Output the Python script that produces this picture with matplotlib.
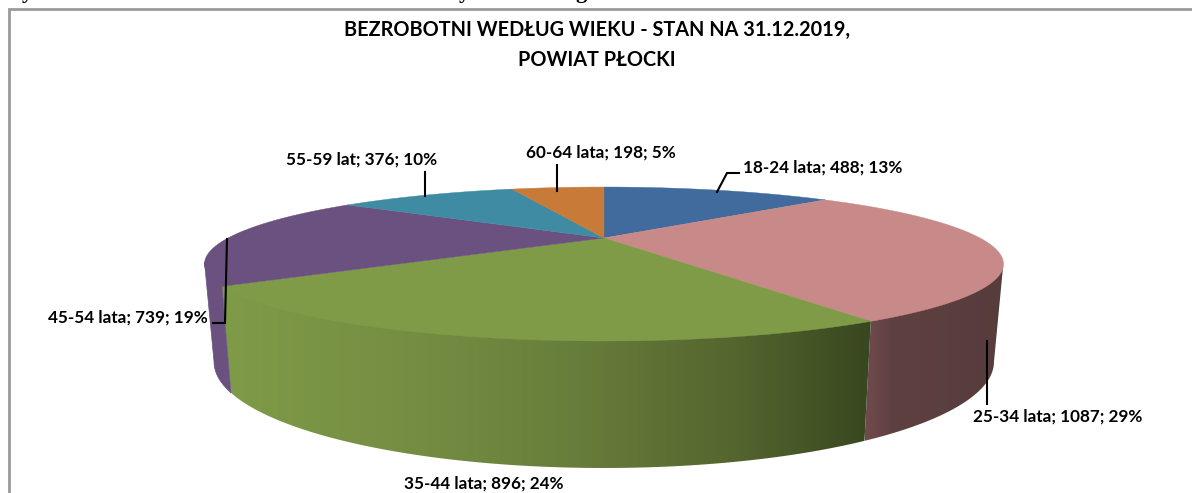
import numpy as np
import matplotlib
matplotlib.use('Agg')
import matplotlib.pyplot as plt
from matplotlib.colors import LinearSegmentedColormap
from matplotlib.patches import Polygon

title = 'BEZROBOTNI WEDŁUG WIEKU - STAN NA 31.12.2019,\nPOWIAT PŁOCKI'
categories = ['18-24 lata', '25-34 lata', '35-44 lata', '45-54 lata', '55-59 lat', '60-64 lata']
values = [488, 1087, 896, 739, 376, 198]
percents = [13, 29, 24, 19, 10, 5]
colors = ['#406b9c', '#c88a88', '#7f9b48', '#6a5180', '#3f8ba3', '#c87a38']
wall_colors = ['#406b9c', '#5a3d3d', '#7f9b48', '#6a5180', '#3f8ba3', '#c87a38']

# label left edge / baseline centre, in pixels of the picture
label_pos = [(743, 168), (973, 417), (404, 484), (48, 318), (286, 160), (526, 153)]
leaders = [
    [(717, 192), (727, 173), (739, 173)],
    [(987, 341), (987, 404)],
    [],
    [(227, 239), (225, 323), (213, 323)],
    [(425, 196), (425, 172)],
    [(557, 191), (557, 165)],
]

# perspective of the 3d pie
CX, CY = 604, 238
K = 0.338
TOP_SX, TOP_SY = 376, 68.2
BOT_CY, BOT_SX, BOT_SY = 326, 367, 94


def top_pts(t):
    x, y = np.sin(t), np.cos(t)
    w = 1 + K * y
    return np.c_[CX + TOP_SX * x / w, CY - TOP_SY * y / w]


def bot_pts(t):
    x, y = np.sin(t), np.cos(t)
    w = 1 + K * y
    return np.c_[CX + BOT_SX * x / w, BOT_CY - BOT_SY * y / w]


fig = plt.figure(figsize=(11.92, 4.93), dpi=100)
ax = fig.add_axes([0, 0, 1, 1])

cum = np.cumsum([0] + values) / sum(values) * 2 * np.pi
edge_l = np.arccos(-K)
edge_r = 2 * np.pi - edge_l

# side walls, only the front part shows
for i in range(len(values)):
    a = max(cum[i], edge_l)
    b = min(cum[i + 1], edge_r)
    if b <= a:
        continue
    t = np.linspace(a, b, 120)
    # rim goes a bit under the top face so no white seam shows
    wall = np.vstack([top_pts(t) - [0, 2], bot_pts(t)[::-1]])
    if i == 1:
        stops = [(0, '#704b4e'), (0.2, '#5f4041'), (1, '#573c3c')]
    elif i == 2:
        stops = [(0, '#7f9b48'), (0.3, '#758d42'), (0.55, '#677d3b'), (0.8, '#54642e'), (1, '#38471f')]
    else:
        ax.add_patch(Polygon(wall, closed=True, fc=wall_colors[i], ec=wall_colors[i], lw=0.5, zorder=2))
        continue
    cmap = LinearSegmentedColormap.from_list('wall%d' % i, stops)
    im = ax.imshow(np.linspace(0, 1, 256)[None, :], cmap=cmap, aspect='auto', zorder=2,
                   extent=[wall[:, 0].min(), wall[:, 0].max(), wall[:, 1].max(), wall[:, 1].min()])
    clip = Polygon(wall, closed=True, transform=ax.transData)
    im.set_clip_path(clip)

# top face
for i in range(len(values)):
    t = np.linspace(cum[i], cum[i + 1], 200)
    pts = np.vstack([[CX, CY], top_pts(t)])
    ax.add_patch(Polygon(pts, closed=True, fc=colors[i], ec=colors[i], lw=0.3, zorder=3))

for line in leaders:
    if line:
        xs, ys = zip(*line)
        ax.plot(xs, ys, color='black', lw=1.5, zorder=4, solid_joinstyle='miter')

for cat, val, pct, (x, y) in zip(categories, values, percents, label_pos):
    ax.text(x, y, '%s; %d; %d%%' % (cat, val, pct), family='Lato', weight='bold', fontsize=12.35,
            color='black', ha='left', va='center', zorder=5)

ax.text(597, 45, title, family='Lato', weight='bold', fontsize=14.3, color='black',
        ha='center', va='center', linespacing=1.6)

# chart frame and the cut off line of text above it
ax.plot([8.5, 8.5, 1192], [493, 9, 9], color='#9a9a9a', lw=2, solid_joinstyle='miter')
for x, ch in [(27, 'y'), (464, 'y'), (581, 'g')]:
    ax.text(x, -2, ch, family='Liberation Serif', weight='bold', fontsize=16, ha='center', va='baseline')

ax.set_xlim(0, 1192)
ax.set_ylim(493, 0)
ax.axis('off')
fig.savefig('out.png', dpi=100)
